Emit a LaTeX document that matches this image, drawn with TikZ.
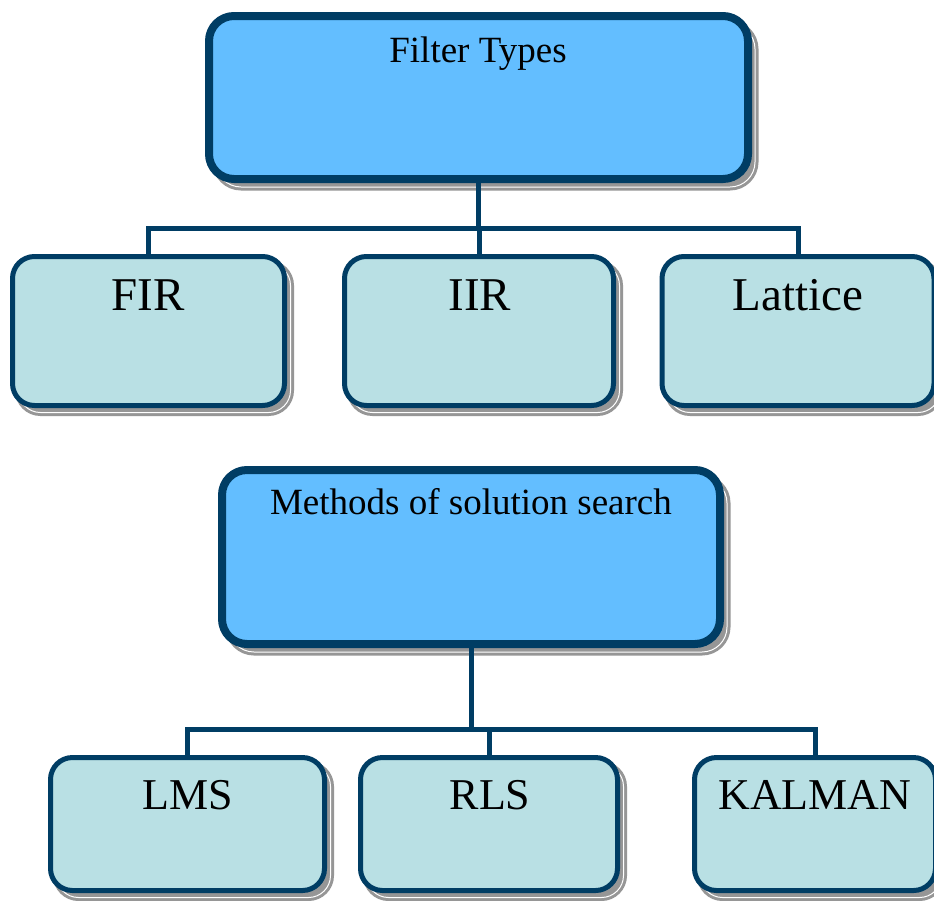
\documentclass[tikz,border=0pt]{standalone}
\usepackage{fontspec}
\setmainfont{Liberation Serif}
\usetikzlibrary{shadows}
\definecolor{navy}{RGB}{0,61,100}
\definecolor{topfill}{RGB}{99,190,255}
\definecolor{subfill}{RGB}{185,224,228}
\definecolor{shadowgray}{RGB}{150,150,150}
\tikzset{
  shadowlook/.style={fill=shadowgray, draw=shadowgray, double=white,
    double distance=1pt, line width=3pt, opacity=1},
  bigbox/.style={draw=navy, inner sep=0pt, fill=topfill, line width=8pt,
    rounded corners=25pt,
    drop shadow={shadow xshift=7pt, shadow yshift=-8pt, shadowlook}},
  smallbox/.style={draw=navy, inner sep=0pt, fill=subfill, line width=5pt,
    rounded corners=22pt,
    drop shadow={shadow xshift=6pt, shadow yshift=-7pt, shadowlook}},
  conn/.style={draw=navy, line width=5pt, line join=miter},
  bigtxt/.style={anchor=base, inner sep=0pt, font=\fontsize{37}{40}\selectfont},
  rowtxt/.style={anchor=base, inner sep=0pt, font=\fontsize{47}{50}\selectfont},
  lowtxt/.style={anchor=base, inner sep=0pt, font=\fontsize{44}{48}\selectfont},
}
\begin{document}
\begin{tikzpicture}[x=1pt,y=-1pt]
\useasboundingbox (0,0) rectangle (934,900);
\fill[white] (0,0) rectangle (934,900);
\coordinate (j1) at (478.5,228);
\coordinate (j2) at (471,729);
% top group boxes
\node[bigbox, minimum width=539pt, minimum height=163pt] (ft) at (478.5,97.5) {};
\node[smallbox, minimum width=272pt, minimum height=149pt] (fir) at (148.5,331) {};
\node[smallbox, minimum width=269pt, minimum height=149pt] (iir) at (479,331) {};
\node[smallbox, minimum width=272pt, minimum height=149pt] (lat) at (798,331) {};
% bottom group boxes
\node[bigbox, minimum width=498pt, minimum height=174pt] (ms) at (471,557) {};
\node[smallbox, minimum width=274pt, minimum height=133pt] (lms) at (187.5,824) {};
\node[smallbox, minimum width=257pt, minimum height=133pt] (rls) at (489,824) {};
\node[smallbox, minimum width=241pt, minimum height=133pt] (kal) at (815,824) {};
% connectors
\draw[conn] (ft.south) -- (j1);
\draw[conn] (fir.north) |- (lat.north |- j1) -- (lat.north);
\draw[conn] (iir.north) -- (iir.north |- j1);
\draw[conn] (ms.south) -- (j2);
\draw[conn] (lms.north) |- (kal.north |- j2) -- (kal.north);
\draw[conn] (rls.north) -- (rls.north |- j2);
% texts
\node[bigtxt] (ftt) at (478,62) {Filter Types};
\node[rowtxt] (firt) at (148,310) {FIR};
\node[rowtxt] (iirt) at (480,310) {IIR};
\node[rowtxt] (latt) at (798,310) {Lattice};
\node[bigtxt] (mst) at (471,514) {Methods of solution search};
\node[lowtxt] (lmst) at (188,809) {LMS};
\node[lowtxt] (rlst) at (490,809) {RLS};
\node[lowtxt] (kalt) at (815,809) {KALMAN};
\end{tikzpicture}
\end{document}
